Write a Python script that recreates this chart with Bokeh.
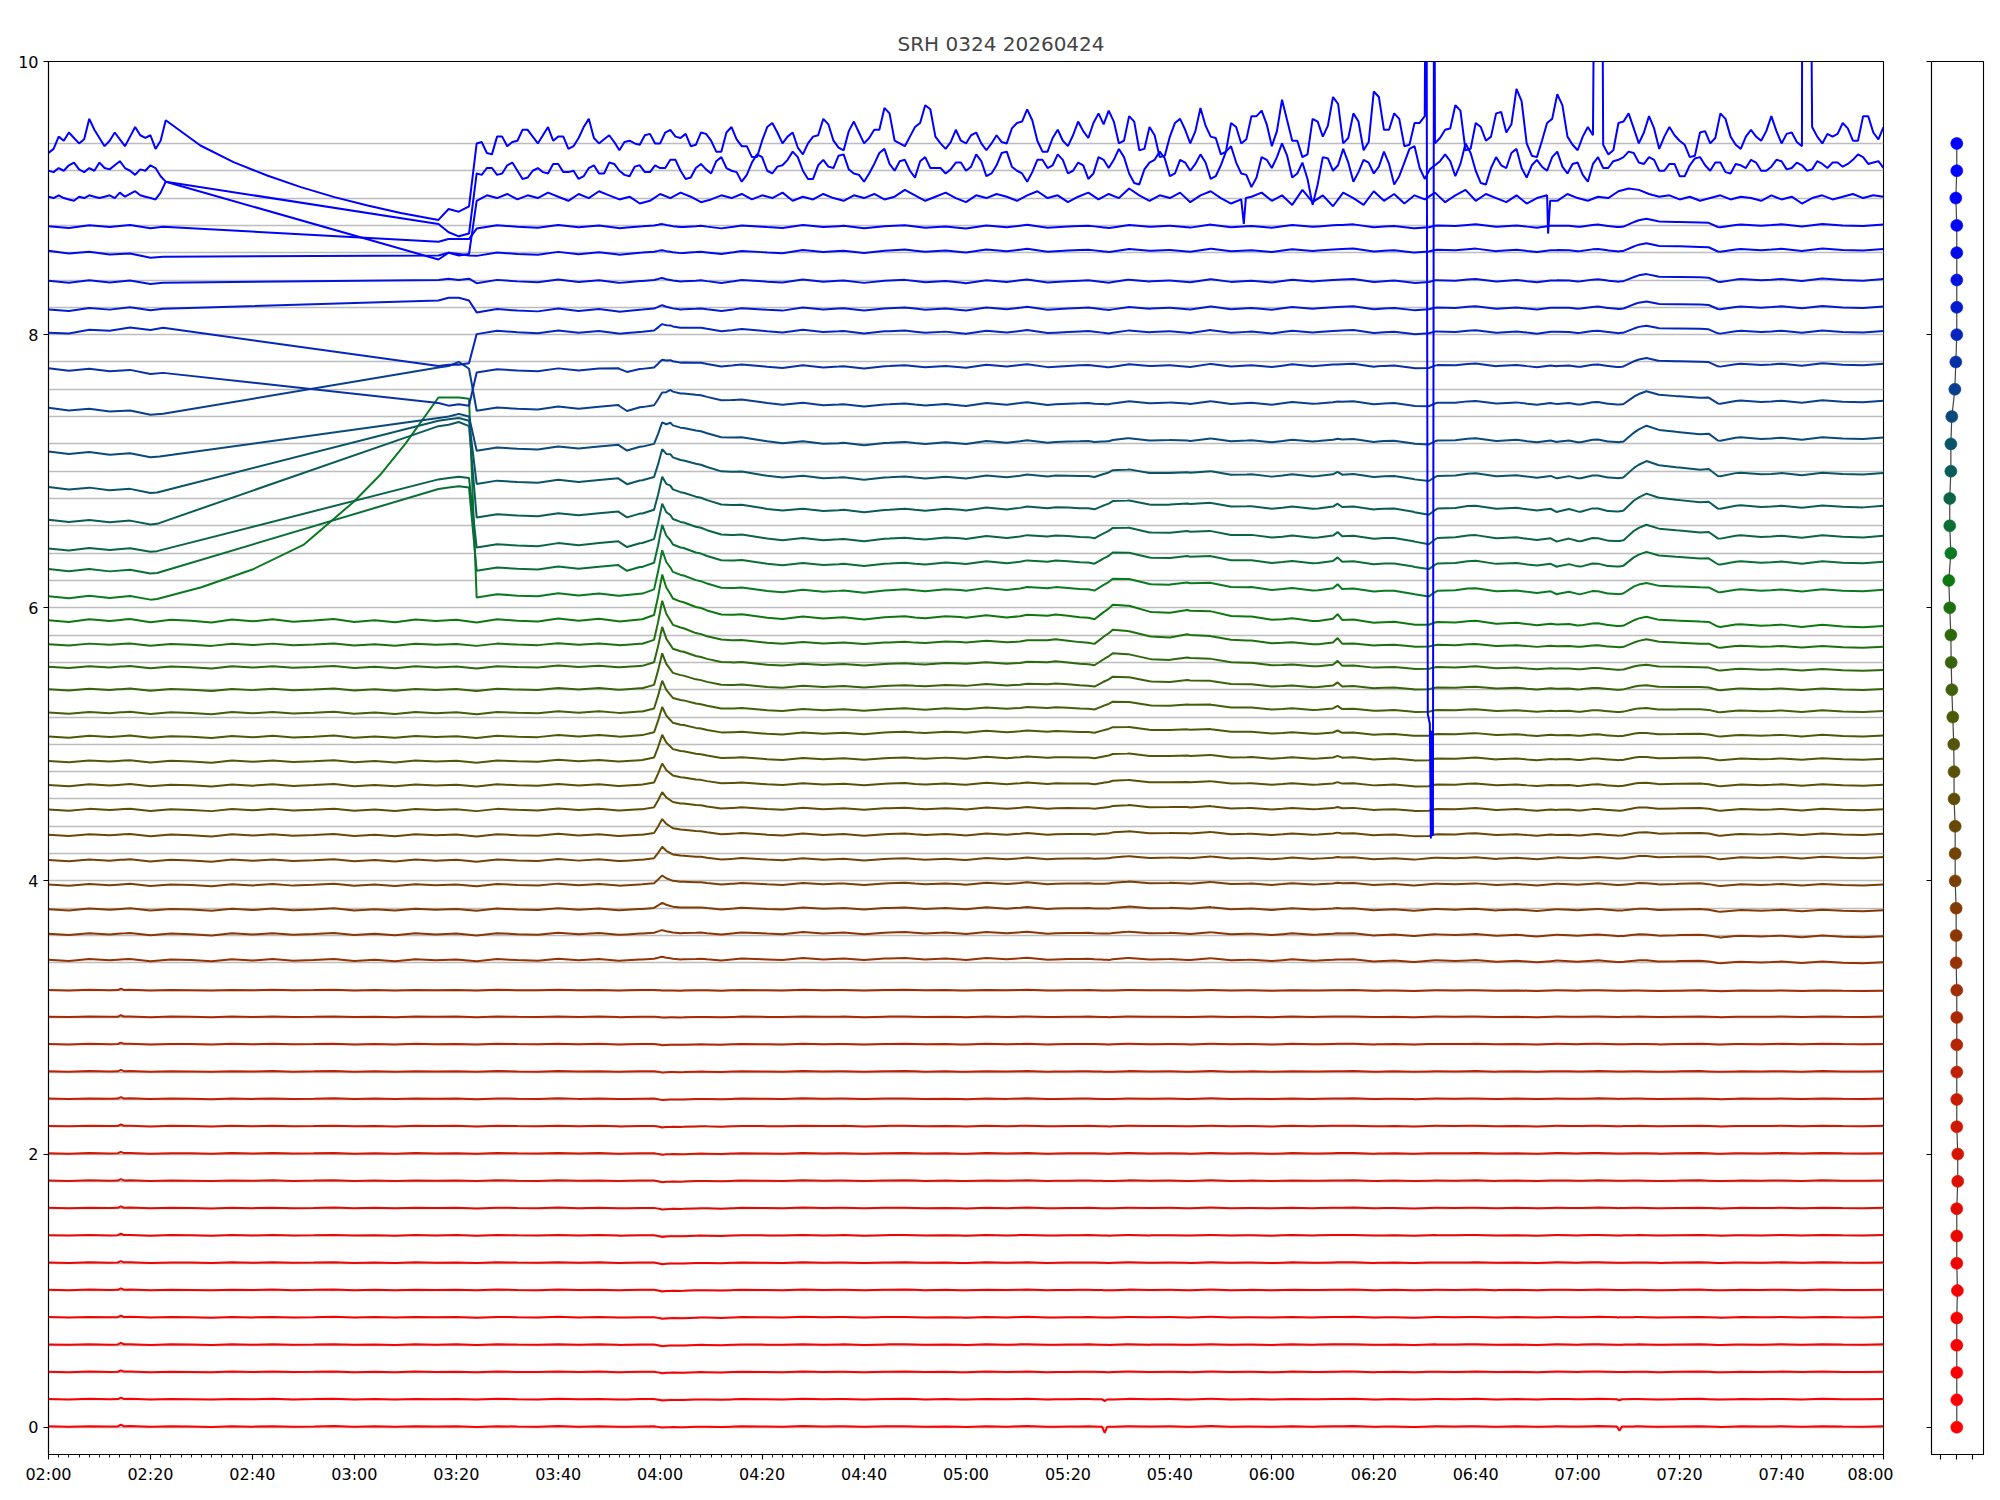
import numpy as np
from bokeh.plotting import figure
from bokeh.layouts import row
from bokeh.models import FixedTicker, Range1d
from bokeh.embed import file_html
from bokeh.resources import INLINE

TITLE = "SRH 0324 20260424"
TICK_MIN = [0, 20, 40, 60, 80, 100, 120, 140, 160, 180, 200, 220, 240, 260, 280, 300, 320, 340, 360]
TICK_LABELS = ["02:00", "02:20", "02:40", "03:00", "03:20", "03:40", "04:00", "04:20", "04:40", "05:00",
               "05:20", "05:40", "06:00", "06:20", "06:40", "07:00", "07:20", "07:40", "08:00"]
MINOR_TICK_MIN = list(range(0, 361, 2))
Y_TICKS = [0, 2, 4, 6, 8, 10]

N_CH = 48
CHANNEL_Y = [round(0.2 * k, 1) for k in range(N_CH)]

# dot positions of the side panel (one per channel, bottom to top)
DOT_X = [0.02, 0.02, 0.02, 0.02, 0.02, 0.06, 0.02, 0.02, 0.02, 0.08,
         0.08, 0.02, 0.02, 0.02, 0.02, 0.02, 0.02, -0.02, -0.02, -0.02,
         -0.08, -0.08, -0.08, -0.15, -0.15, -0.17, -0.23, -0.29, -0.33, -0.35,
         -0.42, -0.48, -0.35, -0.42, -0.42, -0.35, -0.35, -0.29, -0.10, -0.04,
         0.02, 0.02, 0.02, 0.02, 0.02, -0.04, 0.02, 0.02]

# levels of channels 0..44 after the gap (at 03:30, 05:00, 08:00)
LEV_T = [90, 180, 360]
LEV_C0 = [0.005, 0.205, 0.405, 0.605, 0.805, 1.005, 1.205, 1.405, 1.605, 1.805,
          2.005, 2.205, 2.405, 2.605, 2.805, 3.005, 3.200, 3.420, 3.610, 3.790,
          3.970, 4.150, 4.335, 4.520, 4.700, 4.875, 5.055, 5.230, 5.400, 5.565,
          5.730, 5.905, 6.088, 6.284, 6.454, 6.674, 6.920, 7.163, 7.456, 7.736,
          8.017, 8.176, 8.390, 8.590, 8.790]
LEV_C1 = [0.005, 0.205, 0.405, 0.605, 0.805, 1.005, 1.205, 1.405, 1.605, 1.805,
          2.005, 2.205, 2.405, 2.605, 2.805, 3.005, 3.200, 3.430, 3.620, 3.800,
          3.980, 4.160, 4.340, 4.530, 4.710, 4.900, 5.090, 5.260, 5.430, 5.590,
          5.745, 5.930, 6.130, 6.325, 6.510, 6.720, 6.955, 7.210, 7.490, 7.770,
          8.020, 8.190, 8.390, 8.615, 8.790]
LEV_C2 = [0.005, 0.205, 0.405, 0.605, 0.805, 1.005, 1.205, 1.405, 1.605, 1.805,
          2.005, 2.205, 2.405, 2.605, 2.805, 3.005, 3.195, 3.400, 3.590, 3.780,
          3.970, 4.170, 4.340, 4.520, 4.700, 4.890, 5.060, 5.240, 5.400, 5.540,
          5.710, 5.860, 6.125, 6.330, 6.520, 6.740, 6.980, 7.240, 7.510, 7.780,
          8.020, 8.200, 8.400, 8.620, 8.800]

# event shapes (minutes after 02:00, relative value)
S_T = [116.5, 118.8, 119.6, 120.4, 121.2, 122.5, 124.6, 127.0, 129.2, 134.4, 141.0, 148.0]
S_V = [0.0, 0.08, 0.5, 1.0, 0.7, 0.45, 0.38, 0.25, 0.18, 0.08, 0.02, 0.0]
T_T = [120.4, 122.0, 127.0, 134.0, 141.0, 148.0, 155.0, 165.0]
T_V = [0.0, 1.0, 0.9, 0.6, 0.35, 0.15, 0.05, 0.0]
M_T = [108.0, 111.8, 113.5, 116.0]
M_V = [0.0, 1.0, -0.6, 0.0]
H1_T = [170.0, 178.9, 190.6, 197.6, 202.3, 205.2, 207.0, 208.8, 211.7, 216.4,
        219.9, 223.4, 228.1, 235.1, 242.1, 249.1, 252.0, 252.9, 253.8, 260.8]
H1_V = [0.0, 0.1, 0.05, 0.3, 0.05, -0.05, 0.5, 1.0, 0.8, 0.5,
        0.4, 0.7, 0.45, 0.25, 0.1, 0.02, 0.1, 0.4, 0.0, 0.0]
D_T = [262.0, 267.8, 270.8, 272.5, 278.4, 284.2, 290.1, 294.7, 295.9, 298.3, 300.6, 302.9, 305.9, 308.8, 311.0]
D_V = [0.0, -0.3, -1.0, -0.2, 0.15, 0.0, -0.15, -0.2, -0.8, -0.25, -0.6, -0.3, -0.6, -0.45, 0.0]
H2_T = [306.0, 309.0, 311.2, 313.5, 315.8, 319.3, 324.0, 325.7, 327.5, 331.0, 338.0]
H2_V = [0.0, 0.0, 0.5, 1.0, 0.8, 0.55, 0.25, 0.4, 0.0, 0.1, 0.0]
G1_T = [13.6, 14.2, 14.8]
G1_V = [0.0, 1.0, 0.0]
G2_T = [206.7, 207.2, 207.7, 307.7, 308.2, 308.7]
G2_V = [0.0, -3.0, 0.0, 0.0, -2.0, 0.0]

# shared small wiggle, one value every 4 minutes from 02:00
W = [0.2, -0.4, 0.5, -0.1, 0.6, -0.5, 0.3, 0.0, -0.6, 0.4,
     -0.2, 0.5, -0.3, 0.1, 0.6, -0.4, 0.2, -0.5, 0.4, -0.1,
     0.3, -0.6, 0.5, 0.0, -0.3, 0.6, -0.2, 0.4, -0.5, 0.1,
     0.5, -0.3, 0.2, -0.6, 0.4, 0.0, -0.4, 0.6, -0.1, 0.3,
     -0.5, 0.2, 0.5, -0.3, 0.1, -0.6, 0.4, -0.2, 0.6, -0.4,
     0.0, 0.3, -0.5, 0.5, -0.1, 0.2, -0.4, 0.6, -0.3, 0.1,
     -0.5, 0.4, -0.2, 0.3, 0.6, -0.4, 0.1, -0.6, 0.3, 0.0,
     0.5, -0.3, 0.2, -0.5, 0.4, -0.1, 0.6, -0.2, 0.3, -0.4,
     0.1, 0.5, -0.6, 0.2, -0.1, 0.4, -0.3, 0.5, 0.0, -0.2,
     0.3]

# per-channel amplitudes (channels 0..44)
S_AMP = [-0.010, -0.012, -0.012, -0.014, -0.014, -0.014, -0.014, -0.014, -0.014, -0.014,
         -0.012, -0.012, -0.012, -0.010, -0.010, -0.008, -0.005, 0.015, 0.020, 0.040,
         0.060, 0.090, 0.110, 0.120, 0.150, 0.180, 0.200, 0.220, 0.250, 0.280,
         0.310, 0.320, 0.310, 0.300, 0.280, 0.260, 0.220, 0.170, 0.100, 0.060,
         0.050, 0.025, 0.015, 0.010, 0.010]
T_AMP = [0, 0, 0, 0, 0, 0, 0, 0, 0, 0,
         0, 0, 0, 0, 0, 0, 0, 0, 0, 0,
         0, 0, 0, 0, 0, 0, 0, 0, 0, 0,
         0, 0.01, 0.02, 0.03, 0.05, 0.06, 0.07, 0.08, 0.07, 0.03,
         0.02, 0, 0, 0, 0]
M_AMP = [0, 0, 0, 0, 0, 0, 0, 0, 0, 0,
         0, 0, 0, 0, 0, 0, 0, 0, 0, 0,
         0, 0, 0, 0, 0, 0, 0, 0, 0, 0,
         0, 0, 0, 0.03, 0.03, 0.03, 0.03, 0.03, 0.03, 0.02,
         0, 0, 0, 0, 0]
H1_AMP = [0, 0, 0, 0, 0, 0, 0, 0, 0, 0,
          0, 0, 0, 0, 0, 0, 0, 0.005, 0.008, 0.010,
          0.012, 0.015, 0.020, 0.025, 0.030, 0.035, 0.045, 0.060, 0.075, 0.090,
          0.105, 0.110, 0.090, 0.085, 0.080, 0.065, 0.055, 0.020, 0.010, 0,
          0, 0, 0, 0, 0]
D_AMP = [0, 0, 0, 0, 0, 0, 0, 0, 0, 0,
         0, 0, 0, 0, 0, 0, 0, 0, 0, 0,
         0, 0, 0.012, 0.012, 0.012, 0.012, 0.012, 0.012, 0.012, 0.012,
         0.012, 0.020, 0.045, 0.045, 0.050, 0.050, 0.040, 0.030, 0.025, 0.020,
         0.010, 0.010, 0.010, 0.010, 0.010]
H2_AMP = [0, 0, 0, 0, 0, 0, 0, 0, 0, 0,
          0, 0, 0, 0, 0, 0, 0, 0.010, 0.010, 0.010,
          0.010, 0.015, 0.015, 0.015, 0.015, 0.015, 0.015, 0.020, 0.025, 0.030,
          0.050, 0.055, 0.055, 0.080, 0.090, 0.100, 0.100, 0.100, 0.080, 0.050,
          0.045, 0.045, 0.045, 0.050, 0.050]
G1_AMP = [0.012, 0.010, 0.010, 0.010, 0.010, 0.010, 0.010, 0.010, 0.010, 0.010,
          0.010, 0.010, 0.010, 0.010, 0.010, 0.010, 0.010, 0, 0, 0,
          0, 0, 0, 0, 0, 0, 0, 0, 0, 0,
          0, 0, 0, 0, 0, 0, 0, 0, 0, 0,
          0, 0, 0, 0, 0]
G2_AMP = [0.015, 0.004, 0, 0, 0, 0, 0, 0, 0, 0,
          0, 0, 0, 0, 0, 0, 0, 0, 0, 0,
          0, 0, 0, 0, 0, 0, 0, 0, 0, 0,
          0, 0, 0, 0, 0, 0, 0, 0, 0, 0,
          0, 0, 0, 0, 0]
W_AMP = [0.005, 0.005, 0.005, 0.005, 0.005, 0.005, 0.005, 0.005, 0.005, 0.005,
         0.005, 0.005, 0.005, 0.005, 0.005, 0.005, 0.005, 0.015, 0.015, 0.015,
         0.015, 0.015, 0.015, 0.015, 0.015, 0.015, 0.015, 0.015, 0.015, 0.015,
         0.015, 0.022, 0.022, 0.022, 0.022, 0.022, 0.022, 0.022, 0.022, 0.022,
         0.022, 0.022, 0.022, 0.022, 0.022]

# channels 32..44 before the gap (02:00 .. ~02:22)
A_START = [6.08, 6.28, 6.43, 6.64, 6.88, 7.14, 7.46, 7.75, 8.01, 8.18, 8.39, 8.61, 8.79]
A_END = [6.07, 6.26, 6.42, 6.62, 6.85, 7.11, 7.42, 7.72, 8.05, 8.19, 8.38, 8.57, 8.79]
A_END_T = [21.3, 21.3, 21.3, 21.3, 21.3, 21.8, 22.5, 22.5, 22.5, 22.5, 22.5, 22.5, 22.5]

# short segment 03:16 .. 03:22 for channels 32..47
B_T = [76.5, 78.5, 80.5, 82.5]
B_LEVELS = [[7.54, 7.54, 7.54, 7.53],
            [6.87, 6.88, 6.89, 6.88],
            [6.94, 6.95, 6.96, 6.95],
            [7.33, 7.34, 7.36, 7.33],
            [7.37, 7.38, 7.39, 7.37],
            [7.39, 7.40, 7.42, 7.40],
            [7.76, 7.77, 7.80, 7.75],
            [7.50, 7.48, 7.49, 7.48],
            [7.77, 7.78, 7.78, 7.79],
            [8.25, 8.27, 8.27, 8.25],
            [8.40, 8.41, 8.40, 8.41],
            [8.58, 8.60, 8.59, 8.58],
            [8.68, 8.70, 8.70, 8.70],
            [8.55, 8.60, 8.58, 8.59],
            [8.81, 8.75, 8.72, 8.74],
            [8.84, 8.92, 8.90, 8.94]]

K32_GAP_T = [30.0, 40.0, 50.0, 60.0, 65.0, 70.0]
K32_GAP_V = [6.15, 6.28, 6.46, 6.78, 6.97, 7.20]
K47_GAP_T = [29.8, 36.3, 42.9, 49.5, 56.1, 62.6, 69.1]
K47_GAP_V = [9.385, 9.263, 9.165, 9.080, 9.007, 8.946, 8.890]

# top three channels, one value per minute 02:00..02:23
A45 = [9.01, 9.00, 9.02, 9.00, 8.99, 8.98, 9.01, 9.00, 9.02, 9.01, 9.00, 9.01,
       9.02, 9.00, 9.04, 9.01, 9.03, 9.05, 9.02, 9.01, 9.00, 8.99, 9.04, 9.12]
A46 = [9.20, 9.19, 9.22, 9.20, 9.24, 9.26, 9.21, 9.19, 9.22, 9.20, 9.26, 9.22,
       9.21, 9.24, 9.27, 9.22, 9.20, 9.17, 9.21, 9.20, 9.24, 9.22, 9.16, 9.12]
A47 = [9.33, 9.36, 9.45, 9.42, 9.48, 9.44, 9.40, 9.43, 9.58, 9.50, 9.44, 9.38,
       9.42, 9.48, 9.43, 9.38, 9.45, 9.52, 9.46, 9.44, 9.46, 9.36, 9.42, 9.57]

# top three channels, values at even minutes from 03:24 to 08:00
K45_C = [8.98, 9.02, 9.00, 9.03, 8.99, 9.02, 9.00, 9.04, 9.01, 8.98,
         9.03, 9.00, 9.05, 9.02, 8.99, 9.01, 8.96, 8.98, 9.03, 9.00,
         9.04, 9.01, 8.97, 8.99, 9.02, 9.00, 9.03, 8.99, 9.02, 9.00,
         9.04, 8.98, 9.01, 8.99, 9.03, 9.00, 8.98, 9.02, 9.00, 9.03,
         8.99, 9.01, 9.06, 9.02, 8.98, 9.01, 9.04, 9.00, 8.97, 9.02,
         9.00, 9.03, 9.01, 8.98, 9.02, 9.05, 9.00, 9.02, 8.97, 9.01,
         9.04, 8.99, 9.03, 9.00, 9.07, 9.02, 8.98, 9.02, 9.00, 9.04,
         8.97, 9.02, 9.05, 9.00, 8.96, 8.99, 9.01, 9.04, 8.98, 9.02,
         8.95, 9.06, 8.97, 9.02, 8.94, 9.04, 9.00, 8.95, 9.05, 8.98,
         9.03, 8.96, 9.02, 8.99, 9.04, 8.97, 9.02, 9.06, 8.98, 9.03,
         9.00, 8.97, 9.02, 8.96, 9.00, 9.02, 8.98, 9.03, 9.00, 8.98,
         9.01, 9.00, 9.05, 9.07, 9.06, 9.03, 9.01, 9.02, 8.99, 9.01,
         8.98, 9.00, 9.02, 8.99, 9.01, 9.00, 8.98, 9.02, 8.99, 9.01,
         8.96, 9.00, 9.02, 8.99, 9.01, 9.03, 9.00, 9.02, 9.01]
K46_C = [9.18, 9.22, 9.17, 9.24, 9.20, 9.15, 9.22, 9.18, 9.25, 9.19,
         9.14, 9.22, 9.18, 9.26, 9.20, 9.16, 9.24, 9.19, 9.22, 9.28,
         9.20, 9.15, 9.25, 9.18, 9.30, 9.20, 9.12, 9.26, 9.30, 9.18,
         9.24, 9.34, 9.20, 9.14, 9.28, 9.22, 9.32, 9.18, 9.12, 9.25,
         9.36, 9.20, 9.28, 9.15, 9.30, 9.22, 9.18, 9.26, 9.20, 9.32,
         9.16, 9.24, 9.34, 9.20, 9.12, 9.28, 9.22, 9.32, 9.18, 9.26,
         9.14, 9.30, 9.22, 9.36, 9.18, 9.10, 9.26, 9.34, 9.16, 9.28,
         9.20, 9.32, 9.14, 9.24, 9.38, 9.18, 9.08, 9.30, 9.22, 9.40,
         9.15, 9.26, 8.95, 9.30, 9.20, 9.36, 9.12, 9.28, 9.18, 9.34,
         9.10, 9.26, 9.38, 9.14, 9.24, 9.32, 9.16, 9.40, 9.20, 9.10,
         9.30, 9.22, 9.36, 9.15, 9.28, 9.20, 9.34, 9.18, 9.26, 9.12,
         9.30, 9.22, 9.28, 9.34, 9.26, 9.30, 9.20, 9.25, 9.16, 9.24,
         9.30, 9.20, 9.26, 9.18, 9.24, 9.28, 9.20, 9.23, 9.27, 9.22,
         9.24, 9.21, 9.25, 9.26, 9.23, 9.28, 9.30, 9.26, 9.22]
K47_C = [9.40, 9.33, 9.45, 9.38, 9.42, 9.50, 9.40, 9.52, 9.45, 9.36,
         9.44, 9.58, 9.40, 9.46, 9.35, 9.42, 9.39, 9.47, 9.40, 9.50,
         9.44, 9.38, 9.48, 9.42, 9.34, 9.52, 9.38, 9.30, 9.42, 9.55,
         9.40, 9.48, 9.32, 9.45, 9.58, 9.42, 9.35, 9.56, 9.40, 9.50,
         9.66, 9.42, 9.38, 9.52, 9.68, 9.45, 9.36, 9.50, 9.40, 9.48,
         9.35, 9.46, 9.40, 9.55, 9.65, 9.42, 9.34, 9.50, 9.38, 9.56,
         9.44, 9.62, 9.64, 9.40, 9.60, 9.35, 9.52, 9.30, 9.45, 9.58,
         9.40, 9.66, 9.45, 9.32, 9.55, 9.40, 9.60, 9.64, 9.38, 9.72,
         9.42, 9.30, 9.58, 9.45, 9.74, 9.40, 9.62, 9.35, 9.78, 9.50,
         9.62, 9.38, 9.55, 9.60, 9.40, 9.50, 9.68, 9.35, 9.55, 9.42,
         9.62, 9.48, 9.80, 9.40, 9.30, 9.55, 9.76, 9.45, 9.35, 9.52,
         9.40, 9.32, 9.55, 9.62, 9.40, 9.60, 9.36, 9.52, 9.42, 9.30,
         9.48, 9.40, 9.62, 9.45, 9.36, 9.50, 9.42, 9.60, 9.40, 9.48,
         9.38, 9.52, 9.40, 9.45, 9.55, 9.42, 9.60, 9.48, 9.52]
# the two noisiest channels, values at odd minutes from 03:25 to 07:59
K46_ODD = [9.17, 9.22, 9.18, 9.26, 9.14, 9.20, 9.19, 9.25, 9.19, 9.20,
           9.16, 9.24, 9.18, 9.25, 9.17, 9.23, 9.19, 9.24, 9.22, 9.28,
           9.14, 9.22, 9.21, 9.27, 9.22, 9.19, 9.17, 9.32, 9.20, 9.23,
           9.28, 9.30, 9.14, 9.24, 9.23, 9.31, 9.21, 9.17, 9.18, 9.33,
           9.25, 9.27, 9.20, 9.27, 9.22, 9.22, 9.21, 9.26, 9.23, 9.27,
           9.18, 9.33, 9.23, 9.18, 9.19, 9.28, 9.24, 9.28, 9.20, 9.24,
           9.18, 9.28, 9.28, 9.30, 9.11, 9.21, 9.28, 9.29, 9.18, 9.26,
           9.25, 9.26, 9.16, 9.34, 9.26, 9.17, 9.15, 9.28, 9.30, 9.31,
           9.18, 9.14, 9.10, 9.29, 9.24, 9.26, 9.19, 9.26, 9.23, 9.25,
           9.16, 9.36, 9.22, 9.21, 9.27, 9.27, 9.25, 9.33, 9.11, 9.22,
           9.24, 9.33, 9.22, 9.24, 9.23, 9.30, 9.23, 9.25, 9.17, 9.25,
           9.22, 9.27, 9.30, 9.33, 9.25, 9.28, 9.20, 9.25, 9.16, 9.29,
           9.24, 9.26, 9.19, 9.25, 9.22, 9.26, 9.20, 9.28, 9.21, 9.26,
           9.20, 9.27, 9.22, 9.26, 9.25, 9.32, 9.25, 9.27]
K47_ODD = [9.41, 9.32, 9.45, 9.41, 9.50, 9.45, 9.46, 9.42, 9.45, 9.38,
           9.52, 9.44, 9.43, 9.41, 9.41, 9.40, 9.46, 9.40, 9.48, 9.45,
           9.47, 9.39, 9.47, 9.34, 9.48, 9.43, 9.38, 9.30, 9.52, 9.48,
           9.45, 9.37, 9.40, 9.46, 9.54, 9.37, 9.49, 9.48, 9.44, 9.50,
           9.62, 9.40, 9.45, 9.55, 9.65, 9.40, 9.41, 9.42, 9.46, 9.40,
           9.40, 9.41, 9.51, 9.56, 9.57, 9.34, 9.44, 9.42, 9.46, 9.49,
           9.55, 9.54, 9.56, 9.42, 9.56, 9.36, 9.46, 9.31, 9.55, 9.50,
           9.49, 9.53, 9.44, 9.34, 9.52, 9.43, 9.60, 9.54, 9.49, 9.57,
           9.42, 9.32, 9.56, 9.53, 9.69, 9.44, 9.56, 9.41, 9.74, 9.50,
           9.58, 9.39, 9.55, 9.52, 9.44, 9.51, 9.64, 9.36, 9.52, 9.45,
           9.63, 9.54, 9.71, 9.31, 9.42, 9.58, 9.68, 9.39, 9.45, 9.46,
           9.39, 9.35, 9.56, 9.51, 9.48, 9.51, 9.45, 9.46, 9.39, 9.31,
           9.49, 9.44, 9.58, 9.39, 9.45, 9.45, 9.49, 9.49, 9.47, 9.41,
           9.44, 9.45, 9.47, 9.47, 9.51, 9.42, 9.60, 9.43]

# glitches (time, value) groups
K45_GLITCH_T = [[234.5, 234.9], [294.2, 294.6]]
K45_GLITCH_V = [[8.81, 9.00], [8.74, 8.98]]
K47_GLITCH_T = [[270.3, 270.6, 271.0, 271.2, 271.4, 271.6, 271.85], [303.5, 304.7], [344.1, 345.5]]
K47_GLITCH_V = [[12.0, 5.22, 5.15, 4.31, 5.10, 4.33, 12.0], [12.0, 12.0], [12.0, 12.0]]

# colour anchors along the channel index
COLOR_K = [0, 6, 12, 18, 22, 26, 29, 31, 32, 34, 36, 38, 40, 43, 45, 47]
COLOR_R = [255, 238, 200, 140, 104, 76, 46, 14, 10, 10, 10, 10, 6, 0, 0, 0]
COLOR_G = [0, 4, 28, 54, 72, 90, 104, 120, 122, 100, 84, 62, 36, 10, 0, 0]
COLOR_B = [0, 0, 2, 4, 6, 8, 12, 16, 34, 72, 104, 142, 190, 235, 255, 255]


def shape(t, T, V):
    return np.interp(t, T, V)


W_T = [4.0 * i for i in range(len(W))]


def c_curve(k, t):
    t = np.asarray(t, float)
    lev = np.interp(t, LEV_T, [LEV_C0[k], LEV_C1[k], LEV_C2[k]])
    return (lev + S_AMP[k] * shape(t, S_T, S_V) + T_AMP[k] * shape(t, T_T, T_V)
            + M_AMP[k] * shape(t, M_T, M_V) + H1_AMP[k] * shape(t, H1_T, H1_V)
            + D_AMP[k] * shape(t, D_T, D_V) + H2_AMP[k] * shape(t, H2_T, H2_V)
            + G1_AMP[k] * shape(t, G1_T, G1_V) + G2_AMP[k] * shape(t, G2_T, G2_V)
            + W_AMP[k] * shape(t, W_T, W))


KNOTS = np.unique(np.concatenate([W_T, S_T, T_T, M_T, H1_T, D_T, H2_T, G1_T, G2_T]))
KNOTS = KNOTS[(KNOTS >= 0) & (KNOTS <= 360)]


def merge(t1, v1, t2, v2):
    pts = sorted(zip(list(t1) + list(t2), list(v1) + list(v2)), key=lambda p: p[0])
    return [p[0] for p in pts], [p[1] for p in pts]


def apply_glitches(t, v, gts, gvs):
    pts = list(zip(list(t), list(v)))
    for gt, gv in zip(gts, gvs):
        t0, t1 = gt[0], gt[-1]
        pts = [p for p in pts if not (t0 <= p[0] <= t1)]
        pts += list(zip(gt, gv))
        pts.sort(key=lambda p: p[0])
    return [p[0] for p in pts], [p[1] for p in pts]


def hexcol(k):
    r = int(round(np.interp(k, COLOR_K, COLOR_R)))
    g = int(round(np.interp(k, COLOR_K, COLOR_G)))
    b = int(round(np.interp(k, COLOR_K, COLOR_B)))
    return "#%02x%02x%02x" % (r, g, b)


traces = []
for k in range(N_CH):
    if k <= 31:
        t = list(KNOTS)
        y = list(c_curve(k, KNOTS))
    elif k <= 44:
        i = k - 32
        tA = [tt for tt in W_T if tt < A_END_T[i]] + [A_END_T[i]]
        levA = np.interp(tA, [0.0, A_END_T[i]], [A_START[i], A_END[i]])
        yA = list(levA + W_AMP[k] * shape(tA, W_T, W))
        tg, yg = ([], [])
        if k == 32:
            tg, yg = list(K32_GAP_T), list(K32_GAP_V)
        tC = KNOTS[KNOTS >= 84]
        yC = list(c_curve(k, tC))
        t = tA + tg + list(B_T) + list(tC)
        y = yA + yg + list(B_LEVELS[i]) + yC
    else:
        A = {45: A45, 46: A46, 47: A47}[k]
        C = {45: K45_C, 46: K46_C, 47: K47_C}[k]
        tA = [float(i) for i in range(len(A))]
        tC = [84.0 + 2.0 * i for i in range(len(C))]
        yC = list(C)
        if k == 46:
            tC, yC = merge(tC, yC, [85.0 + 2.0 * i for i in range(len(K46_ODD))], K46_ODD)
        if k == 47:
            tC, yC = merge(tC, yC, [85.0 + 2.0 * i for i in range(len(K47_ODD))], K47_ODD)
        if k == 45:
            tC, yC = apply_glitches(tC, yC, K45_GLITCH_T, K45_GLITCH_V)
        if k == 47:
            tC, yC = apply_glitches(tC, yC, K47_GLITCH_T, K47_GLITCH_V)
        tg, yg = ([], [])
        if k == 47:
            tg, yg = list(K47_GAP_T), list(K47_GAP_V)
        t = tA + tg + list(B_T) + list(tC)
        y = list(A) + yg + list(B_LEVELS[k - 32]) + list(yC)
    traces.append((t, y))

FONT = "DejaVu Sans"

p = figure(width=1893, height=1490, x_range=Range1d(0, 360), y_range=Range1d(-0.2, 10),
           output_backend="svg", toolbar_location=None, title=TITLE,
           min_border_left=48, min_border_right=10, min_border_top=61, min_border_bottom=36)
p.title.align = "left"
p.title.offset = 849
p.title.standoff = 12
p.title.text_font = FONT
p.title.text_font_size = "20px"
p.title.text_font_style = "normal"
p.xgrid.grid_line_color = None
p.ygrid.grid_line_color = None
p.outline_line_color = "black"
p.outline_line_width = 1.1
p.background_fill_color = "white"

p.hspan(y=CHANNEL_Y, line_color="#bdbdbd", line_width=1.6)

for k, (t, y) in enumerate(traces):
    p.line(t, y, line_color=hexcol(k), line_width=2)

p.xaxis.ticker = FixedTicker(ticks=TICK_MIN, minor_ticks=MINOR_TICK_MIN)
p.xaxis.major_label_overrides = {tk: lb for tk, lb in zip(TICK_MIN, TICK_LABELS)}
p.yaxis.ticker = FixedTicker(ticks=Y_TICKS, minor_ticks=[])
for ax in (p.xaxis[0], p.yaxis[0]):
    ax.major_label_text_font = FONT
    ax.major_label_text_font_size = "16px"
    ax.major_label_text_color = "black"
    ax.axis_line_color = "black"
    ax.axis_line_width = 1.1
    ax.major_tick_line_color = "black"
    ax.major_tick_line_width = 1.1
    ax.minor_tick_line_color = "black"
    ax.minor_tick_line_width = 0.9
    ax.major_tick_in = 0
    ax.major_tick_out = 5
    ax.minor_tick_in = 0
    ax.minor_tick_out = 3
    ax.major_label_standoff = 5

q = figure(width=95, height=1490, x_range=Range1d(-1.56, 1.69), y_range=p.y_range,
           output_backend="svg", toolbar_location=None,
           min_border_left=38, min_border_right=5, min_border_top=61, min_border_bottom=36)
q.xgrid.grid_line_color = None
q.ygrid.grid_line_color = None
q.outline_line_color = "black"
q.outline_line_width = 1.1
q.line(DOT_X, CHANNEL_Y, line_color="#222222", line_width=1.2, line_alpha=0.85)
q.scatter(DOT_X, CHANNEL_Y, size=12, color=[hexcol(k) for k in range(N_CH)], line_alpha=0.6)
q.xaxis.ticker = FixedTicker(ticks=[-1, 0, 1], minor_ticks=[])
q.xaxis.major_label_overrides = {-1: "", 0: "", 1: ""}
q.yaxis.ticker = FixedTicker(ticks=Y_TICKS, minor_ticks=[])
q.yaxis.major_label_overrides = {tk: "" for tk in Y_TICKS}
for ax in (q.xaxis[0], q.yaxis[0]):
    ax.axis_line_color = "black"
    ax.axis_line_width = 1.1
    ax.major_tick_line_color = "black"
    ax.major_tick_line_width = 1.1
    ax.major_tick_in = 0
    ax.major_tick_out = 5
    ax.major_label_text_font_size = "10px"

layout = row(p, q)
open("out.html", "w").write(file_html(layout, INLINE))
